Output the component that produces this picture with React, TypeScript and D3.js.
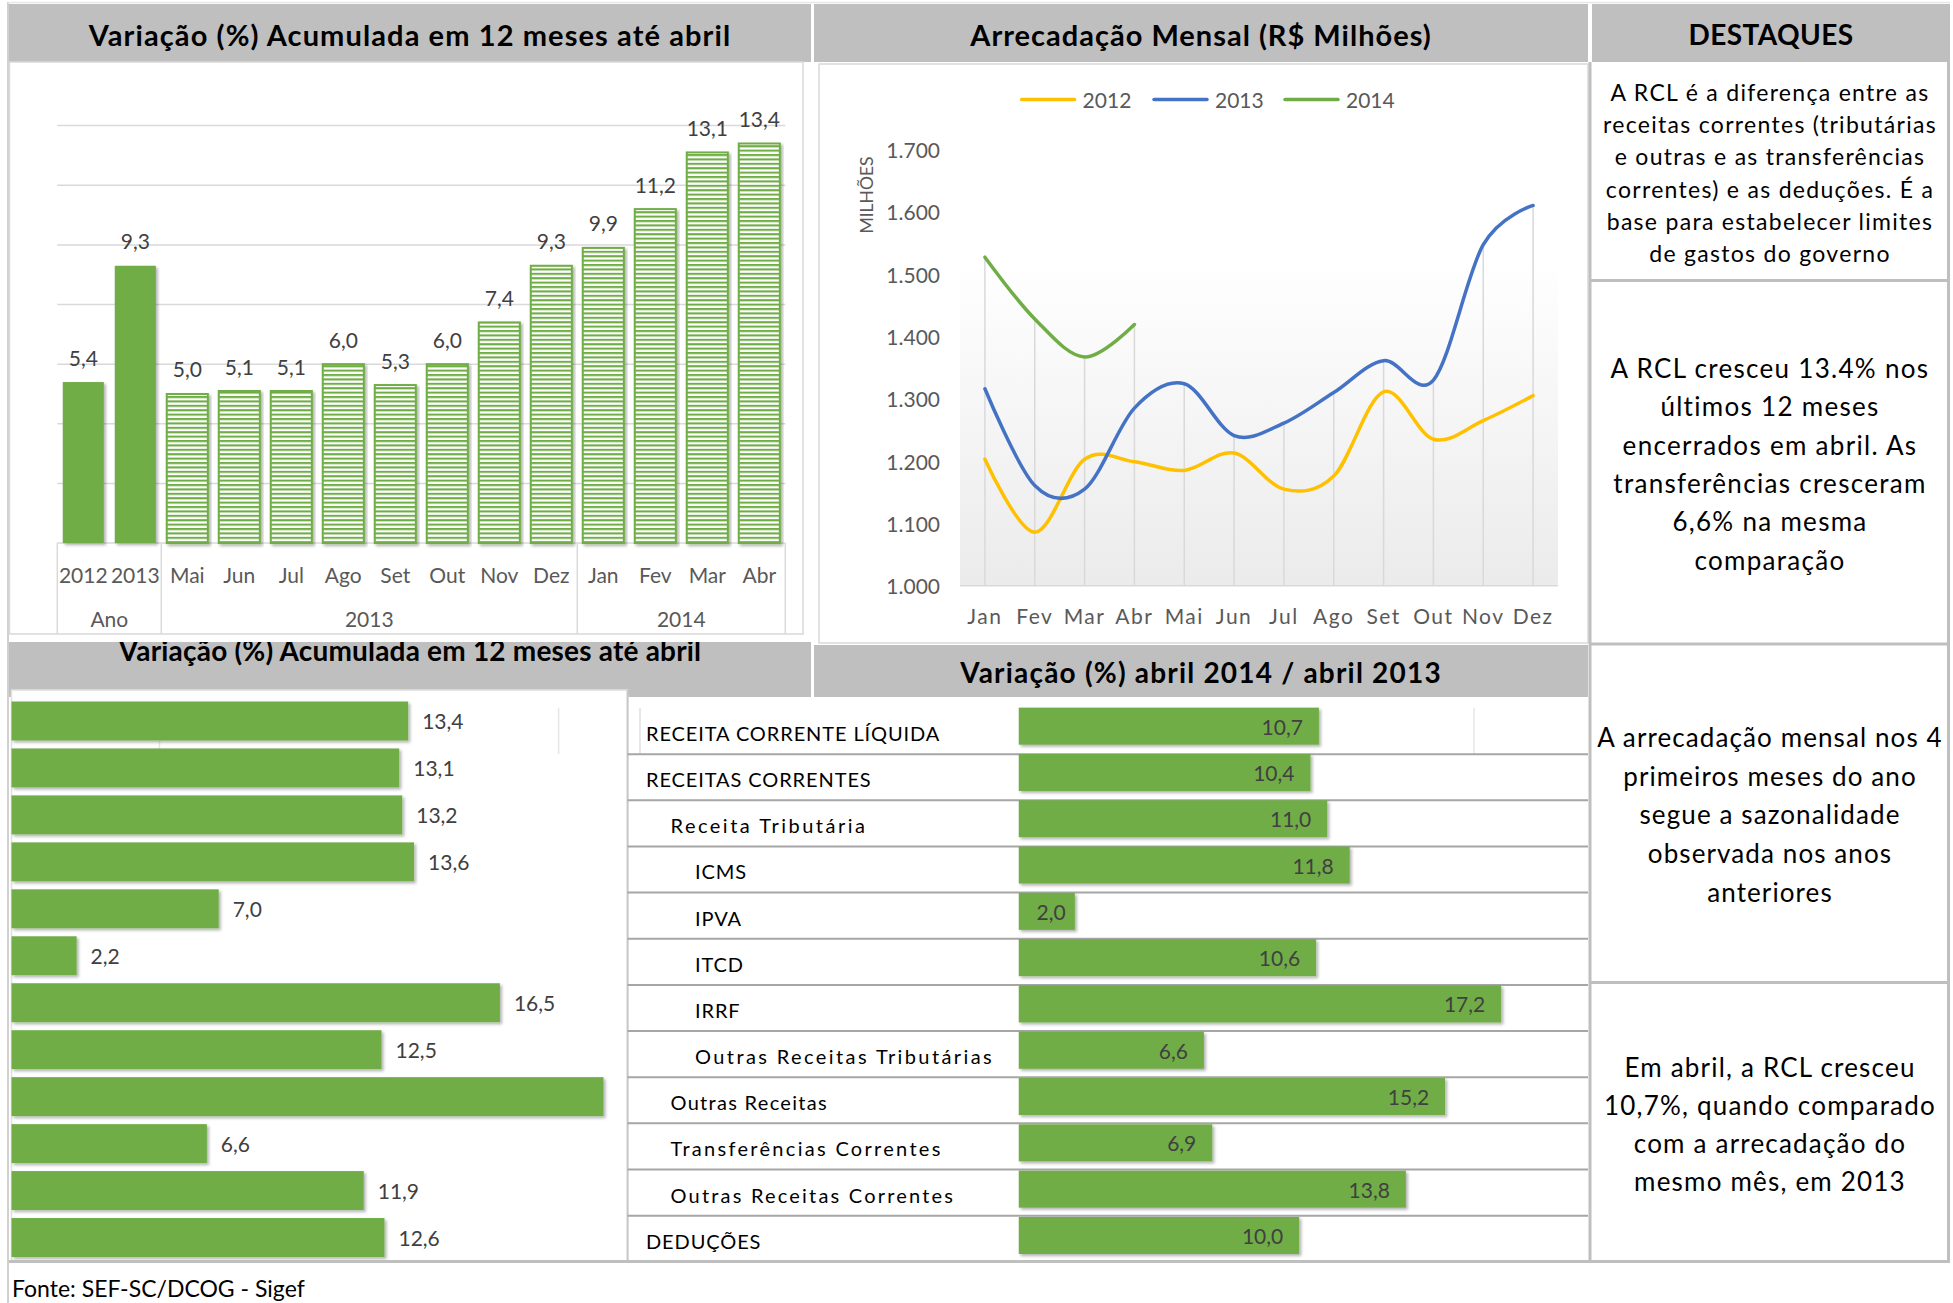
import React from "react";
import * as d3 from "d3";

const W = 1953;
const H = 1303;
const FONT = "Lato, 'Open Sans', sans-serif";
const GREEN = "#70AD47";

// --- top left: acumulado 12 meses
const acumCats = ["2012", "2013", "Mai", "Jun", "Jul", "Ago", "Set", "Out", "Nov", "Dez", "Jan", "Fev", "Mar", "Abr"];
const acumValues = [5.4, 9.3, 5.0, 5.1, 5.1, 6.0, 5.3, 6.0, 7.4, 9.3, 9.9, 11.2, 13.1, 13.4];
const acumGroups = ["Ano", "2013", "2014"];
const acumGroupSizes = [2, 8, 4];
const solidBars = 2;

// --- top middle: arrecadacao mensal
const months = ["Jan", "Fev", "Mar", "Abr", "Mai", "Jun", "Jul", "Ago", "Set", "Out", "Nov", "Dez"];
const rev2012 = [1203, 1086, 1203, 1199, 1185, 1213, 1155, 1176, 1311, 1235, 1265, 1305];
const rev2013 = [1316, 1161, 1155, 1285, 1324, 1241, 1261, 1310, 1361, 1330, 1547, 1610];
const rev2014 = [1527, 1428, 1367, 1419];
const revTicks = [1000, 1100, 1200, 1300, 1400, 1500, 1600, 1700];

// --- bottom: itens da receita
const itemLabels = [
  "RECEITA CORRENTE LÍQUIDA",
  "RECEITAS CORRENTES",
  "Receita Tributária",
  "ICMS",
  "IPVA",
  "ITCD",
  "IRRF",
  "Outras Receitas Tributárias",
  "Outras Receitas",
  "Transferências Correntes",
  "Outras Receitas Correntes",
  "DEDUÇÕES",
];
const itemIndent = [0, 0, 1, 2, 2, 2, 2, 2, 1, 1, 1, 0];
const acum12Values = [13.4, 13.1, 13.2, 13.6, 7.0, 2.2, 16.5, 12.5, 20.0, 6.6, 11.9, 12.6];
const aprilValues = [10.7, 10.4, 11.0, 11.8, 2.0, 10.6, 17.2, 6.6, 15.2, 6.9, 13.8, 10.0];

// letter spacing of the table labels (the sheet stretches some of them)
const labelSpacing = [0.9, 0.9, 2.5, 0.9, 0.9, 0.9, 0.9, 2.4, 1.3, 2.3, 2.2, 0.9];

// --- destaques
const note1 = ["A RCL é a diferença entre as", "receitas correntes (tributárias", "e outras e as transferências", "correntes) e as deduções. É a", "base para estabelecer limites", "de gastos do governo"];
const note2 = ["A RCL cresceu 13.4% nos", "últimos 12 meses", "encerrados em abril. As", "transferências cresceram", "6,6% na mesma", "comparação"];
const note3 = ["A arrecadação mensal nos 4", "primeiros meses do ano", "segue a sazonalidade", "observada nos anos", "anteriores"];
const note4 = ["Em abril, a RCL cresceu", "10,7%, quando comparado", "com a arrecadação do", "mesmo mês, em 2013"];

const fmt1 = (v: number) => d3.format(".1f")(v).replace(".", ",");
const fmtK = (v: number) => d3.format(",")(v).replace(/,/g, ".");

function Header({ x0, x1, y0, y1, text, size, spacing, clip }: any) {
  const id = "hc" + Math.round(x0) + "_" + Math.round(y0);
  return (
    <g>
      <clipPath id={id}><rect x={x0} y={y0} width={x1 - x0} height={y1 - y0} /></clipPath>
      <rect x={x0} y={y0} width={x1 - x0} height={y1 - y0} fill="#bfbfbf" />
      <text x={(x0 + x1) / 2} y={clip ? y0 + 19 : (y0 + y1) / 2 + 1} textAnchor="middle" dominantBaseline={clip ? "alphabetic" : "central"}
        fontSize={size} fontWeight="bold" fill="#000" letterSpacing={spacing} clipPath={`url(#${id})`}>{text}</text>
    </g>
  );
}

function Note({ lines, y0, step, size, spacing }: any) {
  return (
    <text textAnchor="middle" fontSize={size} fill="#000" letterSpacing={spacing}>
      {lines.map((l: string, i: number) => (
        <tspan key={i} x={1770} y={y0 + i * step} dominantBaseline="central">{l}</tspan>
      ))}
    </text>
  );
}

export default function App() {
  // column chart scales
  const keys = acumCats.map((c, i) => c + i);
  const xA = d3.scaleBand<string>().domain(keys).range([57.3, 785.3]).paddingInner(0.21).paddingOuter(0.105);
  const yA = d3.scaleLinear().domain([0, 14]).range([543.1, 125.6]);
  const step = xA.step();
  let acc = 0;
  const groupEdges = [57.3];
  acumGroupSizes.forEach((n) => { acc += n; groupEdges.push(57.3 + acc * step); });

  // line chart scales
  const xL = d3.scalePoint<string>().domain(months).range([960, 1558]).padding(0.5);
  const yL = d3.scaleLinear().domain([1000, 1700]).range([585.8, 149.3]);
  const series = [
    { name: "2012", values: rev2012, color: "#FFC000", lx: 1021.6 },
    { name: "2013", values: rev2013, color: "#4472C4", lx: 1154 },
    { name: "2014", values: rev2014, color: GREEN, lx: 1285 },
  ];
  const line = d3.line<number>().x((_, i) => xL(months[i])!).y((d) => yL(d)).curve(d3.curveCardinal.tension(0));

  // bottom scales
  const yB1 = d3.scaleBand<string>().domain(itemLabels).range([697.5, 1261]).paddingInner(0.17).paddingOuter(0.085);
  const xB1 = d3.scaleLinear().domain([0, 20]).range([11.5, 603.5]);
  const yB2 = d3.scaleBand<string>().domain(itemLabels).range([703, 1258.6]).paddingInner(0.2).paddingOuter(0.1);
  const xB2 = d3.scaleLinear().domain([0, 10]).range([1018.75, 1299.25]);
  const rows = d3.scaleBand<string>().domain(itemLabels).range([708, 1261.8]);

  return (
    <svg width={W} height={H} style={{ position: "absolute", left: 0, top: 0, fontFamily: FONT }}>
      <defs>
        <pattern id="stripes" width="8" height="4.4" patternUnits="userSpaceOnUse">
          <rect width="8" height="4.4" fill="#fff" />
          <rect width="8" height="2.1" fill={GREEN} />
        </pattern>
        <linearGradient id="plotbg" x1="0" y1="0" x2="0" y2="1">
          <stop offset="0" stopColor="#ffffff" />
          <stop offset="0.25" stopColor="#ffffff" />
          <stop offset="1" stopColor="#ebebeb" />
        </linearGradient>
        <filter id="shadow" x="-5%" y="-10%" width="115%" height="130%">
          <feDropShadow dx="2" dy="2" stdDeviation="1.5" floodColor="#000" floodOpacity="0.3" />
        </filter>
      </defs>
      <rect width={W} height={H} fill="#fff" />

      {/* page frame lines */}
      <line x1={8} x2={8} y1={2} y2={H} stroke="#d0d0d0" strokeWidth={2} />
      <line x1={8} x2={1950} y1={2.5} y2={2.5} stroke="#e6e6e6" strokeWidth={1.5} />

      {/* headers */}
      <Header x0={9} x1={811} y0={4} y1={62} text="Variação (%) Acumulada em 12 meses até abril" size={29} spacing={1.1} />
      <Header x0={814} x1={1588} y0={4} y1={62} text="Arrecadação Mensal (R$ Milhões)" size={29} spacing={1.0} />
      <Header x0={1592} x1={1950} y0={4} y1={62} text="DESTAQUES" size={28} spacing={0.4} />
      <Header x0={9} x1={811} y0={642} y1={697} text="Variação (%) Acumulada em 12 meses até abril" size={28} spacing={0.2} clip />
      <Header x0={814} x1={1588} y0={645} y1={697} text="Variação (%) abril 2014 / abril 2013" size={28} spacing={1.2} />

      {/* ---------- column chart ---------- */}
      <rect x={9.5} y={62} width={793.5} height={572} fill="#fff" stroke="#d9d9d9" strokeWidth={1.5} />
      {yA.ticks(7).map((t) => (
        <line key={t} x1={57.3} x2={785.3} y1={yA(t)} y2={yA(t)} stroke="#d9d9d9" strokeWidth={1.5} />
      ))}
      {acumValues.map((v, i) => {
        const x = xA(keys[i])!;
        const solid = i < solidBars;
        return (
          <g key={i}>
            <rect x={x} y={yA(v)} width={xA.bandwidth()} height={yA(0) - yA(v)}
              fill={solid ? GREEN : "url(#stripes)"} stroke={solid ? "none" : GREEN} strokeWidth={2} filter="url(#shadow)" />
            <text x={x + xA.bandwidth() / 2} y={yA(v) - 25} textAnchor="middle" dominantBaseline="central" fontSize={21} fill="#404040">{fmt1(v)}</text>
            <text x={x + xA.bandwidth() / 2} y={574} textAnchor="middle" dominantBaseline="central" fontSize={21} fill="#595959">{acumCats[i]}</text>
          </g>
        );
      })}
      {groupEdges.map((gx, i) => (
        <line key={i} x1={gx} x2={gx} y1={543} y2={634} stroke="#d9d9d9" strokeWidth={1.5} />
      ))}
      {acumGroups.map((g, i) => (
        <text key={g} x={(groupEdges[i] + groupEdges[i + 1]) / 2} y={618} textAnchor="middle" dominantBaseline="central" fontSize={21} fill="#595959">{g}</text>
      ))}

      {/* ---------- line chart ---------- */}
      <rect x={819} y={64} width={769} height={579} fill="#fff" stroke="#d9d9d9" strokeWidth={1.5} />
      <rect x={960} y={yL(1700)} width={598} height={yL(1000) - yL(1700)} fill="url(#plotbg)" />
      {months.map((m, i) => {
        const top = d3.max(series.map((s) => s.values[i]).filter((v) => v !== undefined) as number[])!;
        return <line key={m} x1={xL(m)} x2={xL(m)} y1={yL(top)} y2={yL(1000)} stroke="#d9d9d9" strokeWidth={1.5} />;
      })}
      <line x1={960} x2={1558} y1={yL(1000)} y2={yL(1000)} stroke="#d9d9d9" strokeWidth={1.5} />
      {revTicks.map((t) => (
        <text key={t} x={940} y={yL(t)} textAnchor="end" dominantBaseline="central" fontSize={21} fill="#595959">{fmtK(t)}</text>
      ))}
      {months.map((m) => (
        <text key={m} x={xL(m)} y={615.7} textAnchor="middle" dominantBaseline="central" fontSize={21} fill="#595959" letterSpacing={1.5}>{m}</text>
      ))}
      <text transform="translate(866,195) rotate(-90)" textAnchor="middle" dominantBaseline="central" fontSize={17.5} fill="#595959">MILHÕES</text>
      {series.map((s) => (
        <path key={s.name} d={line(s.values)!} fill="none" stroke={s.color} strokeWidth={3.5} strokeLinecap="round" />
      ))}
      {series.map((s) => (
        <g key={s.name}>
          <line x1={s.lx} x2={s.lx + 53} y1={99.5} y2={99.5} stroke={s.color} strokeWidth={3.5} strokeLinecap="round" />
          <text x={s.lx + 61} y={99.5} dominantBaseline="central" fontSize={21} fill="#595959">{s.name}</text>
        </g>
      ))}

      {/* ---------- bottom left bars ---------- */}
      <rect x={11.5} y={690} width={616} height={572} fill="#fff" stroke="#e0e0e0" strokeWidth={1.5} />
      <line x1={159.5} x2={159.5} y1={741} y2={754} stroke="#e6e6e6" strokeWidth={1.5} />
      <line x1={558.6} x2={558.6} y1={708} y2={754} stroke="#e6e6e6" strokeWidth={1.5} />
      {acum12Values.map((v, i) => {
        const l = itemLabels[i];
        const y = yB1(l)!;
        const xe = xB1(v);
        return (
          <g key={l}>
            <rect x={xB1(0)} y={y} width={xe - xB1(0)} height={yB1.bandwidth()} fill={GREEN} filter="url(#shadow)" />
            {xe + 55 < 627 && (
              <text x={xe + 14} y={y + yB1.bandwidth() / 2} dominantBaseline="central" fontSize={21} fill="#404040">{fmt1(v)}</text>
            )}
          </g>
        );
      })}

      {/* ---------- table and right bars ---------- */}
      <line x1={627.6} x2={627.6} y1={690} y2={1262} stroke="#c8c8c8" strokeWidth={2} />
      <line x1={640} x2={640} y1={708} y2={754} stroke="#e0e0e0" strokeWidth={1.5} />
      <line x1={1474} x2={1474} y1={708} y2={754} stroke="#e6e6e6" strokeWidth={1.5} />
      {itemLabels.map((l, i) => (
        <g key={l}>
          <line x1={627.6} x2={1588} y1={rows(l)! + rows.step()} y2={rows(l)! + rows.step()} stroke="#a6a6a6" strokeWidth={2} />
          <text x={646 + itemIndent[i] * 24.5} y={rows(l)! + 25} dominantBaseline="central" fontSize={20} fill="#000" letterSpacing={labelSpacing[i]}>{l}</text>
        </g>
      ))}
      {aprilValues.map((v, i) => {
        const l = itemLabels[i];
        const y = yB2(l)!;
        const xe = xB2(v);
        const lx = Math.max(xe - 16, xB2(0) + 47);
        return (
          <g key={l}>
            <rect x={xB2(0)} y={y} width={xe - xB2(0)} height={yB2.bandwidth()} fill={GREEN} filter="url(#shadow)" />
            <text x={lx} y={y + yB2.bandwidth() / 2} textAnchor="end" dominantBaseline="central" fontSize={21} fill="#404040">{fmt1(v)}</text>
          </g>
        );
      })}

      {/* ---------- destaques column ---------- */}
      <line x1={1590} x2={1590} y1={62} y2={1262} stroke="#bfbfbf" strokeWidth={3} />
      <line x1={1948.5} x2={1948.5} y1={62} y2={1262} stroke="#bfbfbf" strokeWidth={3} />
      {[280.5, 644, 982.5].map((y) => (
        <line key={y} x1={1590} x2={1950} y1={y} y2={y} stroke="#bfbfbf" strokeWidth={3} />
      ))}
      <Note lines={note1} y0={92} step={32.2} size={23} spacing={1.3} />
      <Note lines={note2} y0={367.7} step={38.4} size={26} spacing={1.3} />
      <Note lines={note3} y0={737} step={38.7} size={26} spacing={1.1} />
      <Note lines={note4} y0={1067} step={38} size={26} spacing={1.2} />

      {/* bottom rule and source */}
      <line x1={9} x2={1950} y1={1261.6} y2={1261.6} stroke="#bfbfbf" strokeWidth={3} />
      <text x={12} y={1288} dominantBaseline="central" fontSize={23} fill="#000">Fonte: SEF-SC/DCOG - Sigef</text>
    </svg>
  );
}
